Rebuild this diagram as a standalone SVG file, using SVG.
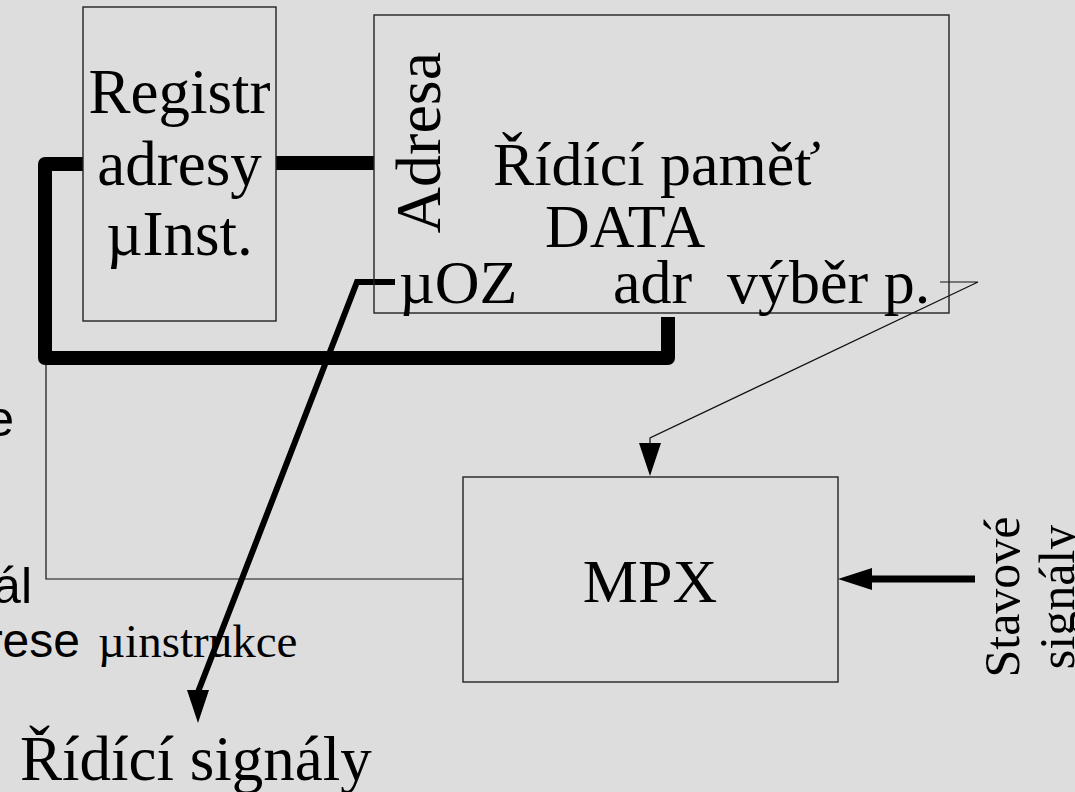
<svg xmlns="http://www.w3.org/2000/svg" width="1075" height="792" viewBox="0 0 1075 792">
<style>
.box{fill:none;stroke:#222;stroke-width:1.4}
.serif{font-family:"Liberation Serif","Times New Roman",serif;fill:#000}
.sans{font-family:"Liberation Sans",Arial,sans-serif;fill:#000}
.bus{fill:none;stroke:#000;stroke-width:14;stroke-linejoin:round}
.thin{fill:none;stroke:#111;stroke-width:1.2}
.thick{fill:none;stroke:#000;stroke-width:6;stroke-linejoin:miter}
</style>
<rect x="0" y="0" width="1075" height="792" fill="#dddddd"/>
<g id="side-texts">
<text class="sans" x="14" y="436" font-size="50" text-anchor="end">e</text>
<text class="sans" x="32" y="603" font-size="50" text-anchor="end">ál</text>
<text class="sans" x="80" y="657" font-size="48" text-anchor="end">rese</text>
<text class="serif" x="98" y="657" font-size="47">µinstrukce</text>
</g>
<g id="connectors">
<path class="thin" d="M46 358 V579 H463"/>
<path class="bus" d="M83 164 H45 V358 H668 V317"/>
<path class="bus" d="M276 163 H374"/>
<path class="thin" d="M940 282 H978 L650 438 V443"/>
<polygon points="639,443 661,443 650,476" fill="#000"/>
<path class="thick" d="M395 282 H357 L198 692"/>
<polygon points="187,690 209,690 198,723" fill="#000"/>
<path d="M975 579 H870" stroke="#000" stroke-width="7" fill="none"/>
<polygon points="838,579 872,568 872,590" fill="#000"/>
</g>
<g id="registr">
<rect class="box" x="83" y="7" width="193" height="314"/>
<text class="serif" font-size="63" text-anchor="middle"><tspan x="179.5" y="113">Registr</tspan><tspan x="179.5" y="185">adresy</tspan><tspan x="179.5" y="255">µInst.</tspan></text>
</g>
<g id="pamet">
<rect class="box" x="374" y="15" width="575" height="298"/>
<text class="serif" font-size="64" text-anchor="middle" transform="translate(440,142.5) rotate(-90)">Adresa</text>
<text class="serif" font-size="62" x="493" y="185">Řídící paměť</text>
<text class="serif" font-size="62" x="545" y="247">DATA</text>
<text class="serif" font-size="62" x="399" y="303">µOZ</text>
<text class="serif" font-size="62" x="613" y="303">adr</text>
<text class="serif" font-size="62" x="727" y="303">výběr p.</text>
</g>
<g id="mpx">
<rect class="box" x="463" y="477" width="375" height="205"/>
<text class="serif" font-size="62" x="650" y="602" text-anchor="middle">MPX</text>
</g>
<g id="stavove">
<text class="serif" font-size="50" text-anchor="middle" transform="translate(1019,597) rotate(-90)">Stavové</text>
<text class="serif" font-size="50" text-anchor="middle" transform="translate(1074,597) rotate(-90)">signály</text>
</g>
<g id="ridici-signaly">
<text class="serif" font-size="63" x="20" y="780">Řídící signály</text>
</g>
</svg>
